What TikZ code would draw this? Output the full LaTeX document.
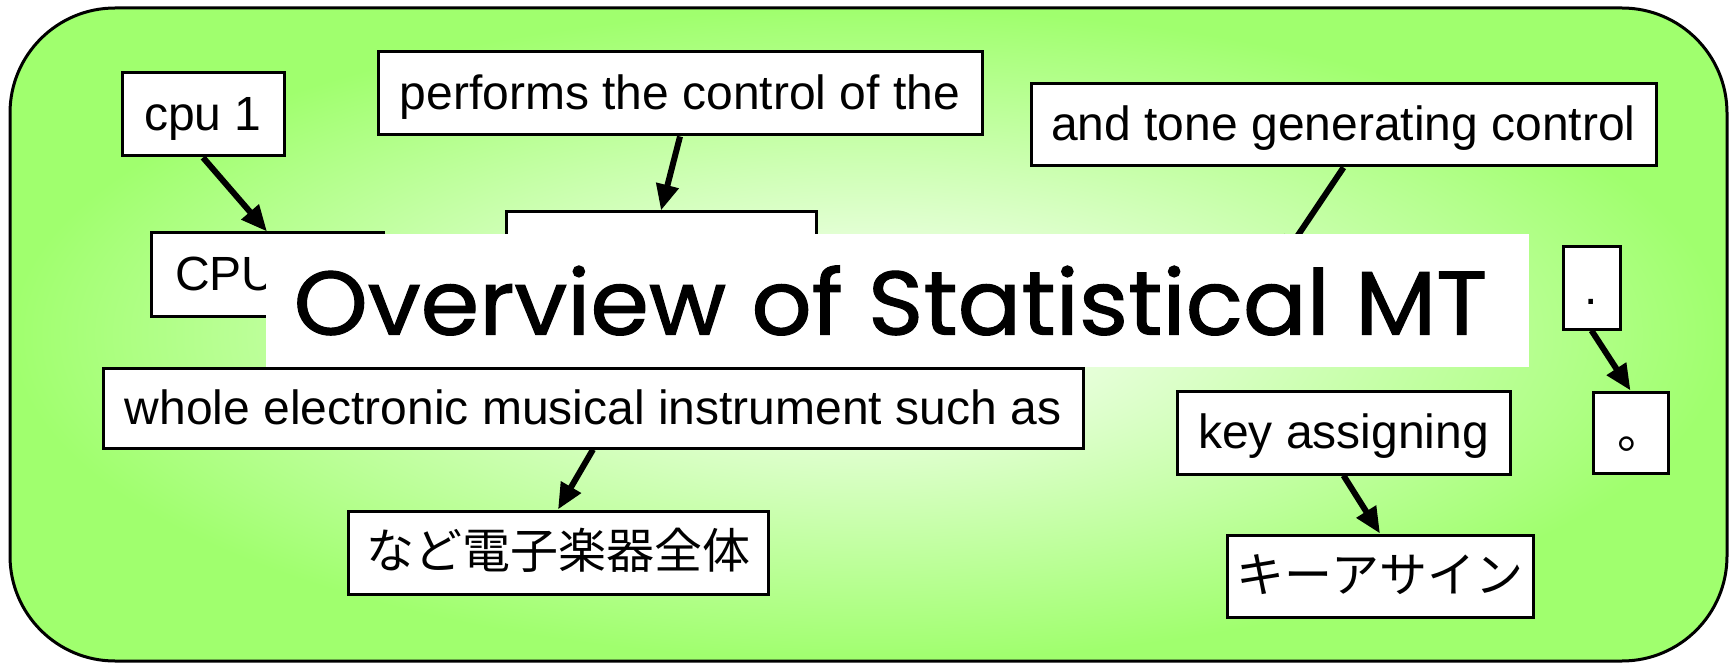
\documentclass[tikz,border=0pt]{standalone}
\usepackage{fontspec}
\usetikzlibrary{arrows.meta}
\newfontfamily\arialfont{Liberation Sans}
\newfontfamily\cjkfont{Noto Sans CJK JP}
\newfontfamily\titlefont{Poppins}[FakeBold=1.2]
\definecolor{bggreen}{RGB}{160,255,110}
\pgfdeclareradialshading{bgshade}{\pgfpoint{0bp}{0bp}}{color(0bp)=(white!92!bggreen); color(4bp)=(white!85!bggreen); color(25bp)=(bggreen); color(50bp)=(bggreen)}
\tikzset{
  x=1pt, y=-1pt,
  box/.style={draw=black, line width=3pt, fill=white, inner sep=0pt,
    text height=44pt, text depth=12pt,
    font=\arialfont\fontsize{48}{57}\selectfont},
  jbox/.style={box, font=\cjkfont\fontsize{48}{57}\selectfont},
  conn/.style={line width=6pt, -{Triangle[length=26pt,width=22pt]}},
  titlebox/.style={fill=white, inner sep=0pt, minimum width=1263pt, minimum height=133pt}
}
\begin{document}
\begin{tikzpicture}
\useasboundingbox (0,0) rectangle (1735,663);
\shade[shading=bgshade, draw=black, line width=3pt, rounded corners=105pt] (10,8) rectangle (1727,661);

% boxes
\node[box, minimum width=162pt, minimum height=83pt] (cpu1) at (203,114.5) {cpu 1};
\node[box, minimum width=604pt, minimum height=83pt] (perf) at (680,93.5) {performs the control of the};
\node[box, minimum width=625pt, minimum height=82pt] (tone) at (1343.5,125) {and tone generating control};
\node[box, minimum width=232pt, minimum height=83pt] (cpu) at (267,274.5) {\makebox[184pt][l]{CPU}};
\node[box, minimum width=310pt, minimum height=83pt] (mid) at (661,253.5) {};
\node[box, minimum width=57pt, minimum height=82pt] (dot) at (1591.5,288) {.};
\node[box, minimum width=980pt, minimum height=80pt] (whole) at (593,408) {whole electronic musical instrument such as};
\node[box, minimum width=333pt, minimum height=83pt] (key) at (1343.5,432.5) {key assigning};
\node[jbox, minimum width=75pt, minimum height=81pt] (maru) at (1630.5,432.5) {\hspace*{22pt}。};
\node[jbox, minimum width=420pt, minimum height=83pt] (nado) at (558,552.5) {など電子楽器全体};
\node[jbox, minimum width=306pt, minimum height=82pt] (kii) at (1380,576) {キーアサイン};
\coordinate (hidden) at (1280,262);

% connectors
\draw[conn] (cpu1.south) -- (cpu.north);
\draw[conn] (perf.south) -- (mid.north);
\draw[conn] (tone.south) -- (hidden);
\draw[conn] (dot.south) -- (maru.north);
\draw[conn] (whole.south) -- (nado.north);
\draw[conn] (key.south) -- (kii.north);

% title
\node[titlebox] (title) at (897.5,300.5) {\hspace*{-14pt}\resizebox{1193pt}{69pt}{\titlefont Overview of Statistical MT}};
\end{tikzpicture}
\end{document}
